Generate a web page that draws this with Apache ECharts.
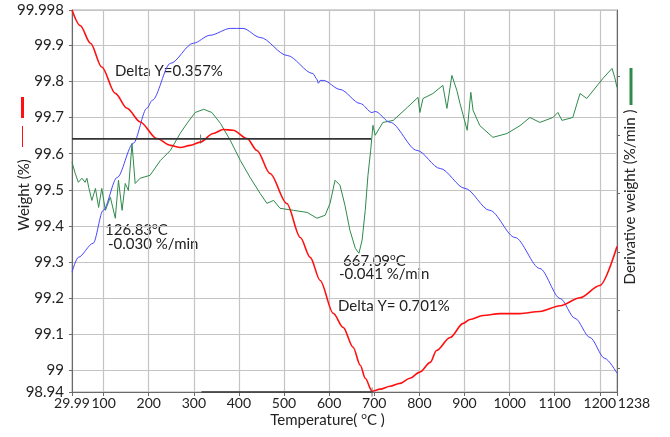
<!DOCTYPE html>
<html><head><meta charset="utf-8">
<script src="https://cdn.jsdelivr.net/npm/echarts@6/dist/echarts.min.js"></script>
<style>html,body{margin:0;padding:0;background:#fff}#c{width:670px;height:437px}</style>
</head><body><div id="c"></div>
<script>
// ---- data ----
const xTicks = [29.99,100,200,300,400,500,600,700,800,900,1000,1100,1200,1238];
const weightTicks = [98.94,99,99.1,99.2,99.3,99.4,99.5,99.6,99.7,99.8,99.9,99.998];
const derivTicks = [-0.08,-0.06,-0.04,-0.02,0,0.02];

const weightTemp = [30,48,71,96,126,152,181,218,248,270,292,314,343,365,387,418,440,469,506,536,558,580,609,631,653,669,680,695,713,735,757,779,801,824,838,868,897,912,941,979,1023,1067,1112,1156,1200,1238];
const weightVal  = [99.998,99.955,99.906,99.840,99.767,99.726,99.688,99.642,99.623,99.617,99.623,99.632,99.656,99.667,99.665,99.642,99.609,99.545,99.462,99.368,99.313,99.249,99.158,99.119,99.064,99.014,98.978,98.942,98.948,98.956,98.964,98.978,98.995,99.022,99.055,99.091,99.130,99.141,99.152,99.157,99.157,99.163,99.179,99.201,99.235,99.343];

const blueTemp = [30,44,77,99,130,166,196,208,248,299,336,381,409,447,507,564,573,576,580,587,624,669,695,702,735,795,846,901,956,1012,1067,1112,1145,1178,1211,1238];
const blueVal  = [99.272,99.313,99.352,99.443,99.534,99.629,99.726,99.748,99.850,99.906,99.928,99.947,99.947,99.922,99.872,99.822,99.806,99.795,99.803,99.803,99.778,99.739,99.714,99.717,99.687,99.609,99.559,99.504,99.443,99.368,99.282,99.199,99.144,99.091,99.033,98.992];

const derivTemp = [30,37,44,52,59,63,67,74,82,89,96,104,115,126,133,141,148,155,163,170,181,203,226,248,270,285,303,322,340,359,381,403,425,447,462,477,491,521,551,573,591,602,613,624,635,646,658,666,673,680,686,692,697,702,719,742,773,797,801,808,830,852,861,872,883,890,906,914,919,934,963,994,1023,1045,1067,1096,1107,1116,1140,1156,1171,1207,1227,1233,1238];
const derivVal  = [-0.0093,-0.0131,-0.0162,-0.0148,-0.0162,-0.0148,-0.0179,-0.0224,-0.0183,-0.0248,-0.0183,-0.0258,-0.0213,-0.0285,-0.0155,-0.0258,-0.0166,-0.0190,-0.0029,-0.0166,-0.0148,-0.0138,-0.0087,-0.0053,0.0006,0.0040,0.0077,0.0088,0.0077,0.0040,-0.0019,-0.0087,-0.0146,-0.0200,-0.0234,-0.0224,-0.0251,-0.0258,-0.0265,-0.0285,-0.0275,-0.0234,-0.0155,-0.0172,-0.0241,-0.0326,-0.0388,-0.0405,-0.0360,-0.0258,-0.0138,-0.0053,0.0033,-0.0001,0.0043,0.0050,0.0094,0.0129,0.0077,0.0125,0.0142,0.0170,0.0091,0.0204,0.0153,0.0108,0.0016,0.0146,0.0084,0.0032,-0.0008,0.0005,0.0032,0.0060,0.0043,0.0060,0.0077,0.0050,0.0060,0.0142,0.0125,0.0194,0.0228,0.0197,0.0163];

const deltaTopTemp = [29.99, 693];
const deltaTopVal = [99.641, 99.641];
const deltaBotTemp = [317, 695];
const deltaBotVal = [98.940, 98.940];
const deltaMarkTemp = [315, 695];
const deltaMarkVal = [99.641, 98.940];

// ---- chart ----
const zip = (a, b) => a.map((v, i) => [v, b[i]]);
const fmt = v => String(+(+v).toFixed(3));
const FONT = 'Lato';
const FS = 15;
const XFS = 14;
const TXT = '#222';
const chart = echarts.init(document.getElementById('c'), null, {renderer: 'canvas'});
const gridColor = '#c4c4c4';
const axisColor = '#6a6a6a';
const supRich = {
  a: {fontSize: FS, fontFamily: FONT, color: TXT, fill: TXT},
  s: {fontSize: 10, fontFamily: FONT, color: TXT, fill: TXT, padding: [0, 0, 8, 0]}
};

chart.setOption({
  animation: false,
  backgroundColor: '#fff',
  textStyle: {fontFamily: FONT},
  grid: {left: 72, right: 53, top: 10, bottom: 45, show: true, borderColor: '#aaa', borderWidth: 1,
         containLabel: false, outerBoundsMode: 'none'},
  xAxis: {
    type: 'value', min: 29.99, max: 1238,
    axisLine: {show: true, onZero: false, lineStyle: {color: axisColor}},
    axisTick: {show: true, customValues: xTicks, length: 4, lineStyle: {color: axisColor}},
    axisLabel: {customValues: xTicks, hideOverlap: false, showMinLabel: true, showMaxLabel: true,
      formatter: v => (Math.abs(v - 1238) < 1e-6 ? '{r|1238}' : fmt(v)),
      rich: {r: {fontSize: XFS, fontFamily: FONT, color: TXT, padding: [0, 0, 0, 34]}},
      color: TXT, fontSize: XFS, fontFamily: FONT, margin: 4},
    splitLine: {show: true, lineStyle: {color: gridColor, width: 1.2}},
    name: '{a|Temperature( }{s|o}{a|C )}',
    nameLocation: 'middle', nameGap: 19, nameMoveOverlap: false,
    nameTextStyle: {padding: [0, 34, 0, 0], rich: supRich}
  },
  yAxis: [{
    type: 'value', min: 98.94, max: 99.998,
    axisLine: {show: true, onZero: false, lineStyle: {color: axisColor}},
    axisTick: {show: true, customValues: weightTicks, length: 3, lineStyle: {color: axisColor}},
    axisLabel: {customValues: weightTicks, hideOverlap: false, showMinLabel: true, showMaxLabel: true,
      formatter: fmt, color: TXT, fontSize: FS, fontFamily: FONT, margin: 8},
    splitLine: {show: true, lineStyle: {color: gridColor, width: 1.2}},
    name: 'Weight (%)', nameLocation: 'middle', nameGap: 40, nameRotate: 90, nameMoveOverlap: false,
    nameTextStyle: {fontSize: FS, fontFamily: FONT, color: TXT, padding: [0, 0, 0, 12]}
  }, {
    type: 'value', min: -0.088, max: 0.0428, position: 'right',
    axisLine: {show: true, onZero: false, lineStyle: {color: axisColor}},
    axisTick: {show: true, customValues: derivTicks, length: 3, lineStyle: {color: axisColor}},
    axisLabel: {show: false},
    splitLine: {show: false},
    name: 'Derivative weight (%/min )', nameLocation: 'middle', nameGap: 6, nameRotate: 90, nameMoveOverlap: false,
    nameTextStyle: {fontSize: FS, fontFamily: FONT, color: TXT, verticalAlign: 'top', padding: [0, 0, 0, 8]}
  }],
  series: [
    {name: 'deriv', type: 'line', yAxisIndex: 1, data: zip(derivTemp, derivVal), showSymbol: false,
     lineStyle: {color: '#2f8a4c', width: 1}, z: 3},
    {name: 'blue', type: 'line', data: zip(blueTemp, blueVal), showSymbol: false, smooth: 0.3, smoothMonotone: 'x',
     lineStyle: {color: '#4545ff', width: 1}, z: 4},
    {name: 'weight', type: 'line', data: zip(weightTemp, weightVal), showSymbol: false, smooth: 0.3, smoothMonotone: 'x',
     lineStyle: {color: '#ff1010', width: 1.6}, z: 5},
    {name: 'deltaTop', type: 'line', data: zip(deltaTopTemp, deltaTopVal), showSymbol: false,
     lineStyle: {color: '#333', width: 1.6}, z: 6},
    {name: 'deltaBot', type: 'line', data: zip(deltaBotTemp, deltaBotVal), showSymbol: false,
     lineStyle: {color: '#333', width: 1.6}, z: 6},
    {name: 'deltaMark', type: 'scatter', data: zip(deltaMarkTemp, deltaMarkVal), symbol: 'rect', symbolSize: [1, 9],
     itemStyle: {color: '#555'}, z: 7}
  ],
  graphic: [
    {type: 'rect', left: 21, top: 97, shape: {width: 3, height: 21}, style: {fill: '#ff1010'}},
    {type: 'rect', left: 22, top: 126, shape: {width: 1, height: 21}, style: {fill: '#ff1010'}},
    {type: 'rect', left: 629.5, top: 68, shape: {width: 3, height: 37}, style: {fill: '#2f8a4c'}},
    {type: 'text', left: 115, top: 64, style: {text: 'Delta Y=0.357%', font: FS + 'px Lato', fill: TXT}},
    {type: 'text', left: 105, top: 221, style: {text: '{a|126.83}{s|o}{a|C}', rich: supRich}},
    {type: 'text', left: 108, top: 237, style: {text: '-0.030 %/min', font: FS + 'px Lato', fill: TXT}},
    {type: 'text', left: 343, top: 252, style: {text: '{a|667.09}{s|o}{a|C}', rich: supRich}},
    {type: 'text', left: 339, top: 267, style: {text: '-0.041 %/min', font: FS + 'px Lato', fill: TXT}},
    {type: 'text', left: 338, top: 299, style: {text: 'Delta Y= 0.701%', font: FS + 'px Lato', fill: TXT}}
  ]
});
</script></body></html>
